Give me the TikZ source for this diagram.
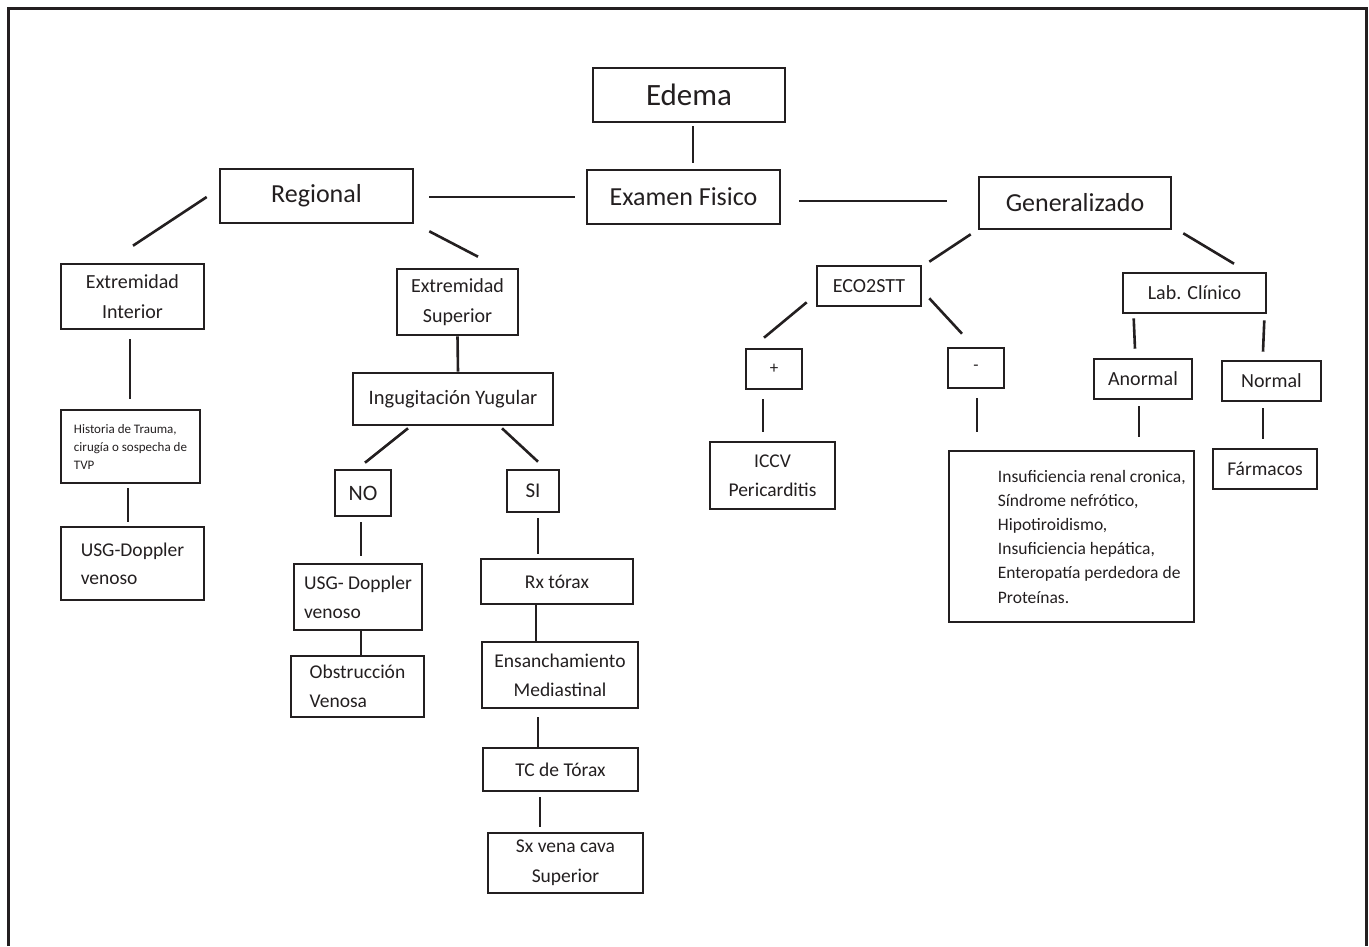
\documentclass[tikz,border=0pt]{standalone}
\usepackage{fontspec}
\setmainfont{Carlito}
\usepackage{xcolor}
\usepackage{tikz}
\usetikzlibrary{positioning}

\definecolor{ink}{RGB}{35,31,32}

\tikzset{
  box/.style={draw=ink, line width=2.6pt, inner sep=0pt, align=center, text=ink},
  fs/.style 2 args={font=\fontsize{#1}{#2}\selectfont},
  link/.style={draw=ink, line width=2.6pt}
}

\begin{document}
\begin{tikzpicture}[x=1pt,y=-1pt]
\useasboundingbox (0,0) rectangle (1369,946);
% frame, open at the bottom
\draw[ink, line width=3pt] (8,946) -- (8,8) -- (1366,8) -- (1366,946);

% top of the tree
\node[box, fs={31}{36}, minimum width=192, minimum height=54] (edema) at (689,95) {Edema};
\node[box, fs={26}{30}, minimum width=193, minimum height=54] (examen) at (683.5,197) {Examen Fisico};
\node[box, fs={26}{30}, minimum width=193, minimum height=54] (regional) at (316.5,196) {Regional};
\node[box, fs={26}{30}, minimum width=192, minimum height=52] (general) at (1075,203) {Generalizado};

% regional branch
\node[box, fs={20}{30}, minimum width=143, minimum height=65] (extinf) at (132.5,296.5) {Extremidad\\Interior};
\node[box, fs={13}{18}, align=left, minimum width=139, minimum height=73] (historia) at (130.5,446.5) {Historia de Trauma,\\cirugía o sospecha de\\TVP};
\node[box, fs={19.5}{28}, align=left, minimum width=143, minimum height=73] (usginf) at (132.5,563.5) {USG-Doppler\\venoso};
\node[box, fs={20}{30}, minimum width=121, minimum height=66] (extsup) at (457.5,302) {Extremidad\\Superior};
\node[box, fs={20.5}{30}, minimum width=200, minimum height=52] (yugular) at (453,399) {Ingugitación Yugular};
\node[box, fs={22}{30}, minimum width=56, minimum height=46] (no) at (363,493) {NO};
\node[box, fs={21}{30}, minimum width=52, minimum height=42] (si) at (533,491) {SI};
\node[box, fs={19.5}{29}, align=left, minimum width=128, minimum height=66] (usgsup) at (358,597) {USG- Doppler\\venoso};
\node[box, fs={19.5}{29}, align=left, minimum width=133, minimum height=61] (obstr) at (357.5,686.5) {Obstrucción\\Venosa};
\node[box, fs={19.5}{29}, minimum width=152, minimum height=45] (rx) at (557,581.5) {Rx tórax};
\node[box, fs={19.5}{29}, minimum width=156, minimum height=66] (ensanch) at (560,675) {Ensanchamiento\\Mediastinal};
\node[box, fs={19.5}{29}, minimum width=155, minimum height=43] (tc) at (560.5,769.5) {TC de Tórax};
\node[box, fs={19.5}{30}, minimum width=155, minimum height=60] (sx) at (565.5,863) {Sx vena cava\\Superior};

% generalized branch
\node[box, fs={20}{30}, minimum width=104, minimum height=40] (eco) at (869,286) {ECO2STT};
\node[box, fs={17}{30}, minimum width=56, minimum height=40] (pos) at (774,369) {+};
\node[box, fs={17}{30}, minimum width=56, minimum height=40] (neg) at (976,368) {-};
\node[box, fs={19.5}{29}, minimum width=125, minimum height=67] (iccv) at (772.5,475.5) {ICCV\\Pericarditis};
\node[box, fs={20}{30}, minimum width=143, minimum height=40] (lab) at (1194.5,293) {Lab. Clínico};
\node[box, fs={20}{30}, minimum width=98, minimum height=40] (anormal) at (1143,379) {Anormal};
\node[box, fs={20}{30}, minimum width=99, minimum height=40] (normal) at (1271.5,381) {Normal};
\node[box, fs={19.5}{30}, minimum width=104, minimum height=40] (farmacos) at (1265,469) {Fármacos};
\node[box, minimum width=245, minimum height=171] (causas) at (1071.5,536.5) {};
\node[fs={17.5}{24.2}, text=ink, align=left, inner sep=0pt, anchor=west] (causastxt)
  at ([xshift=50]causas.west) {Insuficiencia renal cronica,\\Síndrome nefrótico,\\Hipotiroidismo,\\Insuficiencia hepática,\\Enteropatía perdedora de\\Proteínas.};

% connectors, left open at both ends
\draw[link] ([shift={(4,3)}]edema.south) -- ([shift={(9.5,-6)}]examen.north);
\draw[link] ([shift={(15,1)}]regional.east) -- ([shift={(-11,0)}]examen.west);
\draw[link] ([shift={(18,4)}]examen.east) -- ([shift={(-31,-2)}]general.west);
\draw[link] ([shift={(-12,1)}]regional.west) -- ([shift={(0.5,-17)}]extinf.north);
\draw[link] ([shift={(15,7)}]regional.south east) -- ([shift={(20.5,-11)}]extsup.north);
\draw[link] ([shift={(-2.5,9)}]extinf.south) -- ([shift={(-0.5,-10)}]historia.north);
\draw[link] ([shift={(-2.5,4)}]historia.south) -- ([shift={(-4.5,-4)}]usginf.north);
\draw[link] (extsup.south) -- ([shift={(5,0)}]yugular.north);
\draw[link] ([shift={(-45,2)}]yugular.south) -- ([shift={(2,-6)}]no.north);
\draw[link] ([shift={(49,2)}]yugular.south) -- ([shift={(5,-7)}]si.north);
\draw[link] ([shift={(-2,5)}]no.south) -- ([shift={(3,-7)}]usgsup.north);
\draw[link] ([shift={(5,5)}]si.south) -- ([shift={(-19,-4)}]rx.north);
\draw[link] ([shift={(3,0)}]usgsup.south) -- ([shift={(3.5,0)}]obstr.north);
\draw[link] ([shift={(-21,0)}]rx.south) -- ([shift={(-24,0)}]ensanch.north);
\draw[link] ([shift={(-22,8)}]ensanch.south) -- ([shift={(-22.5,0)}]tc.north);
\draw[link] ([shift={(-20.5,5)}]tc.south) -- ([shift={(-25.5,-5)}]sx.north);
\draw[link] ([shift={(-7,4)}]general.south west) -- ([shift={(7,-3)}]eco.north east);
\draw[link] ([shift={(11,3)}]general.south east) -- ([shift={(39.5,-8)}]lab.north);
\draw[link] ([shift={(-9,-5)}]eco.south west) -- ([shift={(-10,-10)}]pos.north);
\draw[link] ([shift={(7,-9)}]eco.south east) -- ([shift={(-14,-13)}]neg.north);
\draw[link] ([shift={(-11,9)}]pos.south) -- ([shift={(-9.5,-9)}]iccv.north);
\draw[link] ([shift={(1,9)}]neg.south) -- ([shift={(-94.5,-18)}]causas.north);
\draw[link] ([shift={(12,4)}]lab.south west) -- ([shift={(-8,-9)}]anormal.north);
\draw[link] ([shift={(-3,6)}]lab.south east) -- ([shift={(-8.5,-8)}]normal.north);
\draw[link] ([shift={(-4,6)}]anormal.south) -- ([shift={(67.5,-13)}]causas.north);
\draw[link] ([shift={(-8.5,6)}]normal.south) -- ([shift={(-2,-9)}]farmacos.north);
\end{tikzpicture}
\end{document}
